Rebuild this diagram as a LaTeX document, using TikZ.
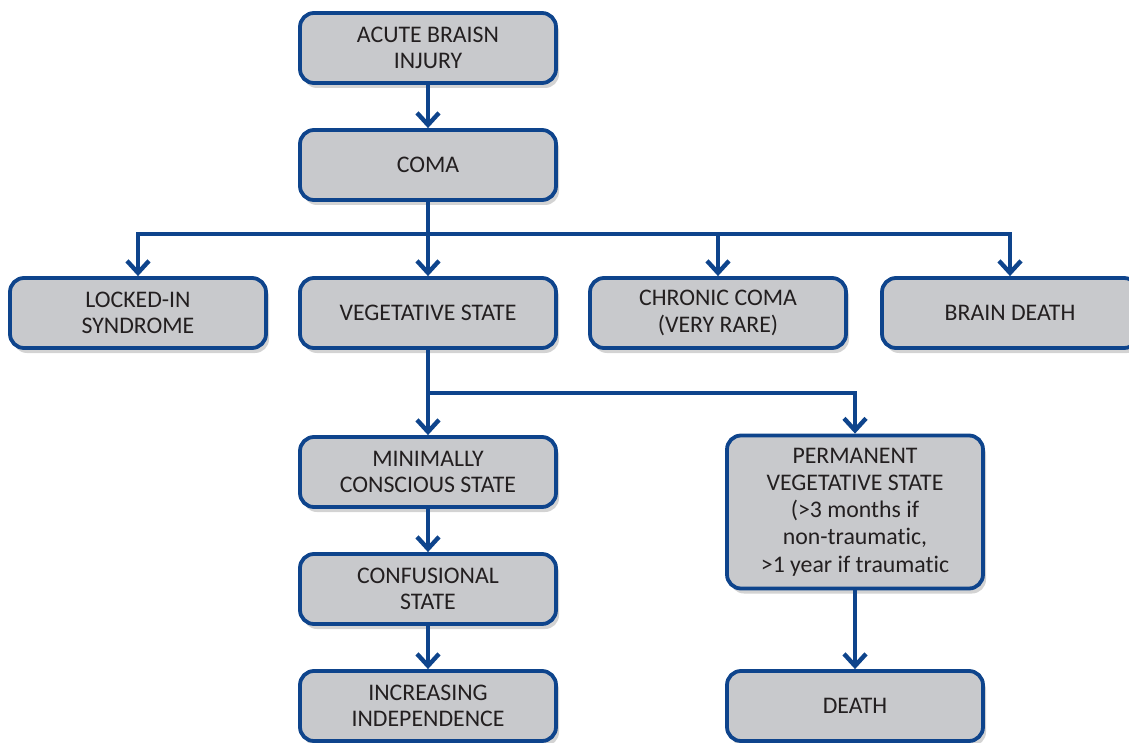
\documentclass[tikz,border=0pt]{standalone}
\usepackage{fontspec}
\setmainfont{Carlito}[Ligatures=NoCommon]
\usetikzlibrary{shapes.geometric, arrows.meta, shadows}
\definecolor{boxblue}{RGB}{14,68,140}
\definecolor{boxgray}{RGB}{200,201,204}
\definecolor{textgray}{RGB}{35,31,32}
\tikzstyle{state} = [rectangle, rounded corners=7pt, minimum width=128pt, minimum height=35pt, text centered, align=center, draw=boxblue, line width=1.9pt, fill=boxgray, text=textgray, font=\fontsize{11.9}{13.2}\selectfont, drop shadow={shadow xshift=1.5pt, shadow yshift=-2.5pt, opacity=0.35}]
\tikzstyle{tall} = [state, minimum height=76.5pt]
\tikzstyle{arrow} = [draw=boxblue, line width=2.2pt, -{Straight Barb[length=6pt, width=11pt]}]
\tikzstyle{line} = [draw=boxblue, line width=2.2pt]
\begin{document}
\begin{tikzpicture}[node distance=58.5pt]
\useasboundingbox (0,0) rectangle (564.5pt,-371.5pt);
\node (acute) [state] at (214pt,-24pt) {ACUTE BRAISN\\INJURY};
\node (coma) [state, below of = acute] {COMA};
\node (veg) [state, below of = coma, yshift = -15.5pt] {VEGETATIVE STATE};
\node (locked) [state, left of = veg, xshift = -86.5pt] {LOCKED-IN\\SYNDROME};
\node (chronic) [state, right of = veg, xshift = 86.5pt] {CHRONIC COMA\\(VERY RARE)};
\node (braindeath) [state, right of = chronic, xshift = 87.5pt] {BRAIN DEATH};
\node (minimal) [state, below of = veg, yshift = -21pt] {MINIMALLY\\CONSCIOUS STATE};
\node (confus) [state, below of = minimal] {CONFUSIONAL\\STATE};
\node (independence) [state, below of = confus] {INCREASING\\INDEPENDENCE};
\node (death) [state, right of = independence, xshift = 155pt] {DEATH};
\node (pvs) [tall, above of = death, yshift = 38.5pt, font=\fontsize{11.9}{13.6}\selectfont] {PERMANENT\\VEGETATIVE STATE\\(>3 months if\\non-traumatic,\\>1 year if traumatic};
\coordinate (split) at ([yshift=-16pt]coma.south);
\coordinate (split2) at ([yshift=-21.5pt]veg.south);
\draw [arrow] (acute) -- (coma);
\draw [line] (coma) -- (split);
\draw [arrow] (split) -- (veg);
\draw [arrow] (split) -| (locked);
\draw [arrow] (split) -| (chronic);
\draw [arrow] (split) -| (braindeath);
\draw [arrow] (veg) -- (minimal);
\draw [arrow] (split2) -| (pvs);
\draw [arrow] (minimal) -- (confus);
\draw [arrow] (confus) -- (independence);
\draw [arrow] (pvs) -- (death);
\end{tikzpicture}
\end{document}
